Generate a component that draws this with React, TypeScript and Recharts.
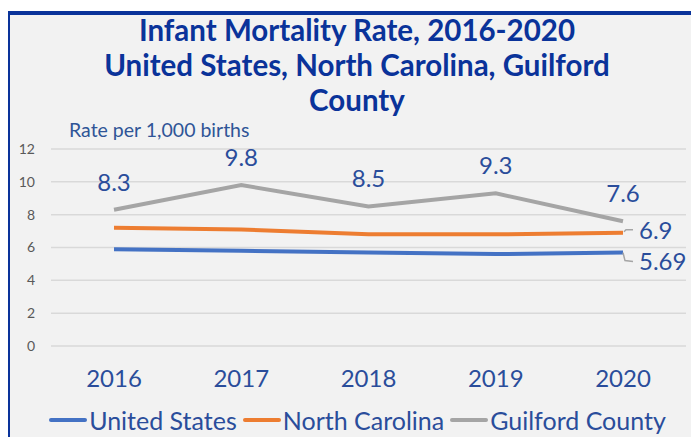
import { LineChart, Line, XAxis, YAxis, CartesianGrid, Legend, LabelList } from 'recharts'

const years = ['2016', '2017', '2018', '2019', '2020']
const unitedStates = [5.9, 5.8, 5.7, 5.6, 5.69]
const northCarolina = [7.2, 7.1, 6.8, 6.8, 6.9]
const guilfordCounty = [8.3, 9.8, 8.5, 9.3, 7.6]
const yTicks = [0, 2, 4, 6, 8, 10, 12]
const seriesOrder = ['United States', 'North Carolina', 'Guilford County']

const data = years.map((year, i) => ({
  year,
  us: unitedStates[i],
  nc: northCarolina[i],
  gc: guilfordCounty[i],
}))

const BLUE_TEXT = '#2a4d9b'
const FONT = 'Lato, "Open Sans", sans-serif'

/** Label only on the last point, pushed right with a small gray leader line. */
function endLabel(dropDown: boolean) {
  return (props: any) => {
    const { x, y, value, index } = props
    if (index !== years.length - 1) return null
    const leader = dropDown
      ? `${x},${y} ${x + 2},${y + 8} ${x + 10},${y + 9}`
      : `${x + 1},${y - 1} ${x + 3},${y - 3} ${x + 10},${y - 3}`
    return (
      <g>
        <polyline points={leader} fill="none" stroke="#a5a5a5" strokeWidth={1.5} />
        <text x={x + 16} y={dropDown ? y + 17 : y + 6} fill={BLUE_TEXT} fontSize={24} fontFamily={FONT}>
          {value}
        </text>
      </g>
    )
  }
}

function LegendContent({ payload }: any) {
  const items = [...(payload || [])].sort(
    (a: any, b: any) => seriesOrder.indexOf(a.value) - seriesOrder.indexOf(b.value)
  )
  return (
    <div style={{ display: 'flex', justifyContent: 'center', alignItems: 'center' }}>
      {items.map((p: any) => (
        <div key={p.value} style={{ display: 'flex', alignItems: 'center', marginRight: 6 }}>
          <svg width={38} height={10}>
            <line x1={2} y1={5} x2={36} y2={5} stroke={p.color} strokeWidth={4} strokeLinecap="round" />
          </svg>
          <span style={{ color: BLUE_TEXT, fontSize: 25, fontFamily: FONT, marginLeft: 2 }}>{p.value}</span>
        </div>
      ))}
    </div>
  )
}

export default function App() {
  return (
    <div
      style={{
        position: 'relative',
        width: 699,
        height: 445,
        margin: -8,
        overflow: 'hidden',
        background: '#ffffff',
        fontFamily: FONT,
      }}
    >
      <div
        style={{
          position: 'absolute',
          left: 6,
          top: 11,
          width: 740,
          height: 480,
          border: '4px solid #0a339a',
          background: '#f2f2f2',
        }}
      />
      <div
        style={{
          position: 'absolute',
          left: 0,
          top: 12,
          width: 714,
          textAlign: 'center',
          color: '#0a339a',
          fontWeight: 700,
          fontSize: 29.5,
          lineHeight: '35px',
        }}
      >
        Infant Mortality Rate, 2016-2020
        <br />
        United States, North Carolina, Guilford
        <br />
        County
      </div>
      <div
        style={{
          position: 'absolute',
          left: 69,
          top: 118,
          color: '#2f5597',
          fontSize: 19.5,
        }}
      >
        Rate per 1,000 births
      </div>
      <LineChart
        width={699}
        height={445}
        data={data}
        margin={{ top: 149, right: 13, bottom: 59, left: 11 }}
        style={{ position: 'absolute', left: 0, top: 0 }}
      >
        <CartesianGrid vertical={false} stroke="#d9d9d9" strokeWidth={1.5} />
        <XAxis
          dataKey="year"
          axisLine={false}
          tickLine={false}
          height={40}
          tickMargin={18}
          padding={{ left: 63, right: 63 }}
          tick={{ fill: BLUE_TEXT, fontSize: 24, fontFamily: FONT }}
        />
        <YAxis
          domain={[0, 12]}
          ticks={yTicks}
          axisLine={false}
          tickLine={false}
          width={40}
          tickMargin={10}
          tick={{ fill: '#595959', fontSize: 14, fontFamily: FONT }}
        />
        <Legend
          layout="horizontal"
          align="center"
          verticalAlign="middle"
          wrapperStyle={{ top: 405, left: 11, width: 699 }}
          content={<LegendContent />}
        />
        <Line
          dataKey="us"
          name="United States"
          stroke="#4472c4"
          strokeWidth={4}
          dot={false}
          isAnimationActive={false}
        >
          <LabelList content={endLabel(true)} />
        </Line>
        <Line
          dataKey="nc"
          name="North Carolina"
          stroke="#ed7d31"
          strokeWidth={4}
          dot={false}
          isAnimationActive={false}
        >
          <LabelList content={endLabel(false)} />
        </Line>
        <Line
          dataKey="gc"
          name="Guilford County"
          stroke="#a5a5a5"
          strokeWidth={4}
          dot={false}
          isAnimationActive={false}
        >
          <LabelList position="top" offset={19} fill={BLUE_TEXT} fontSize={24} fontFamily={FONT} />
        </Line>
      </LineChart>
    </div>
  )
}
